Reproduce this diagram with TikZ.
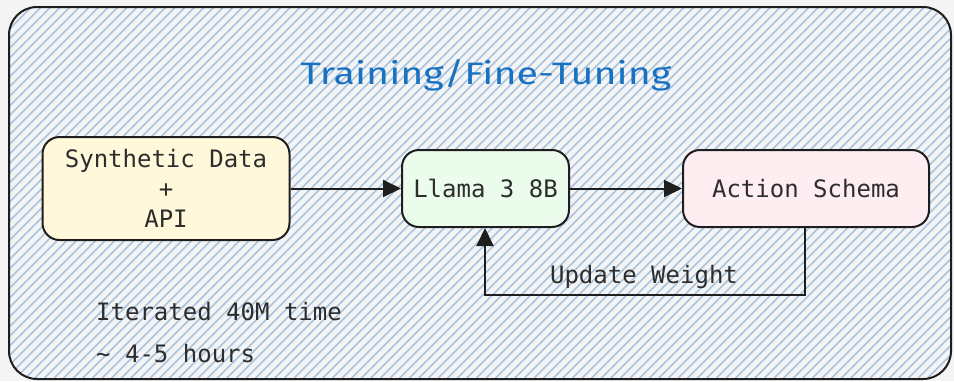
\documentclass[tikz,border=0pt]{standalone}
\usepackage{fontspec}
\usepackage{graphicx}
\setmonofont{DejaVu Sans Mono}
\newfontfamily\titlefont{Fira Sans}
\usetikzlibrary{arrows.meta}
\definecolor{bgc}{RGB}{244,244,244}
\definecolor{hatchc}{RGB}{168,196,224}
\definecolor{ink}{RGB}{30,30,30}
\definecolor{txt}{RGB}{45,45,45}
\definecolor{yel}{RGB}{255,248,218}
\definecolor{grn}{RGB}{235,251,236}
\definecolor{pnk}{RGB}{255,238,241}
\definecolor{blu}{RGB}{25,113,194}
\tikzset{
  boxnode/.style={draw=ink, line width=2pt, rounded corners=17pt, inner sep=0pt,
    text=txt, align=center, font=\ttfamily\fontsize{24}{30}\selectfont},
  conn/.style={draw=ink, line width=2pt, -{Triangle[length=18pt,width=17pt]}},
  plaintxt/.style={text=txt, inner sep=0pt, font=\ttfamily\fontsize{24}{30}\selectfont}
}
\begin{document}
\begin{tikzpicture}[x=1pt,y=-1pt]
\useasboundingbox (0,0) rectangle (954,381);
\fill[bgc] (0,0) rectangle (954,381);
\begin{scope}
  \clip[rounded corners=28pt] (9,7) rectangle (951,379);
  \foreach \k in {-400,-390.4,...,960}{
    \draw[hatchc, line width=1.6pt] (\k,381) -- ({\k+381},0);
  }
\end{scope}
\draw[ink, line width=2pt, rounded corners=28pt] (9,7) rectangle (951,379);

\node[text=blu, inner sep=0pt, font=\titlefont\fontsize{31}{36}\selectfont] (title) at (486,75)
  {\scalebox{1.27}[1]{Training/Fine-Tuning}};

\node[boxnode, fill=yel, minimum width=247pt, minimum height=103pt] (syn) at (166,188.5)
  {Synthetic Data\\+\\API};
\node[boxnode, fill=grn, minimum width=167pt, minimum height=77pt] (llama) at (485.5,188.5)
  {Llama 3 8B};
\node[boxnode, fill=pnk, minimum width=246pt, minimum height=77pt] (act) at (806,188.5)
  {Action Schema};

\draw[conn] (syn.east) -- (llama.west);
\draw[conn] (llama.east) -- (act.west);

\coordinate (fbR) at (805,295);
\coordinate (fbL) at (485,295);
\draw[conn] (act.south -| fbR) -- (fbR) -- (fbL) -- (llama.south -| fbL);
\node[plaintxt] (upd) at (644,277) {Update Weight};

\node[plaintxt, anchor=base west] (it1) at (96,320) {Iterated 40M time};
\node[plaintxt, anchor=base west] (it2) at (96,362) {\char`\~{} 4-5 hours};
\end{tikzpicture}
\end{document}
